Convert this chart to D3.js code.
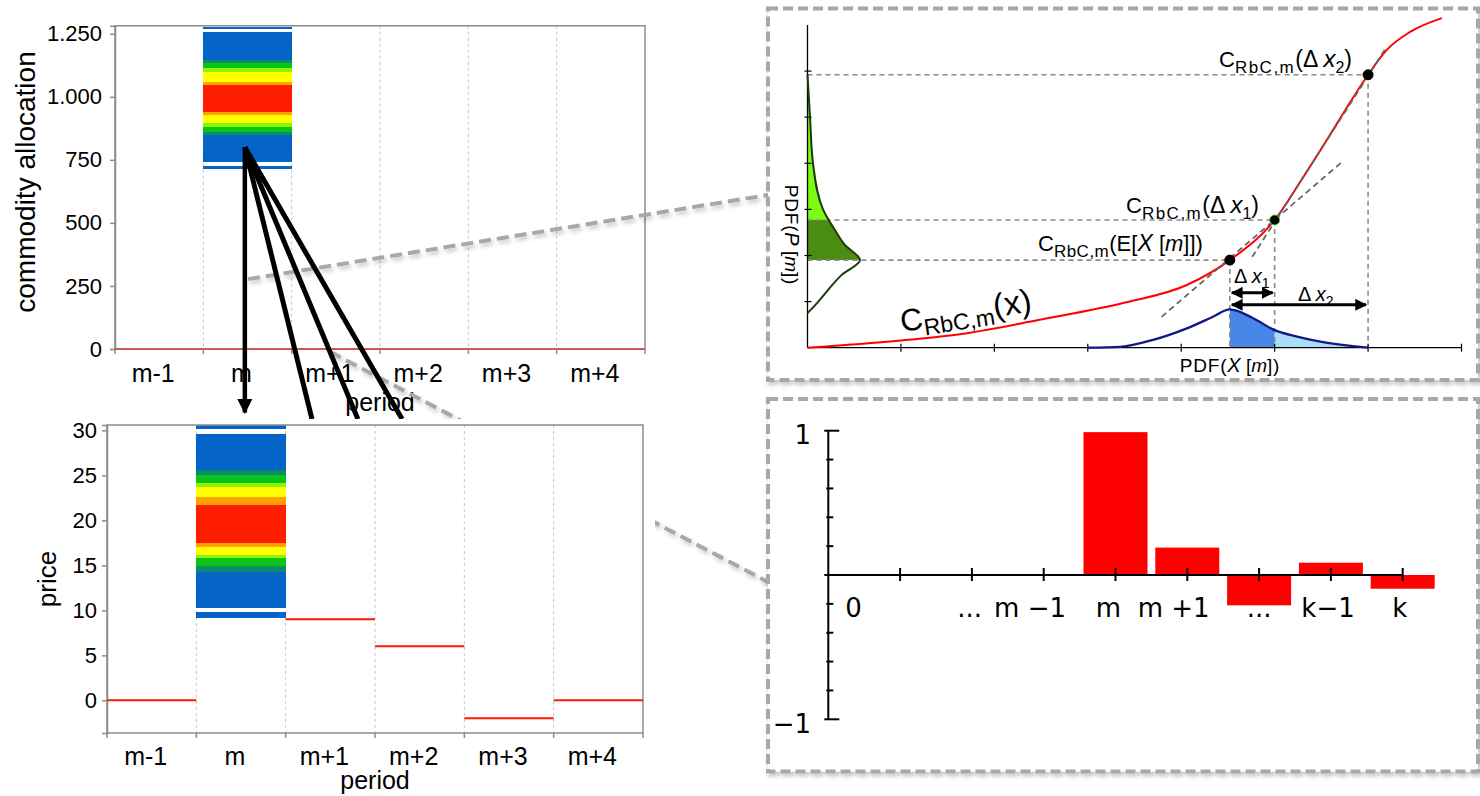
<!DOCTYPE html>
<html>
<head>
<meta charset="utf-8">
<script src="https://cdn.jsdelivr.net/npm/d3@7"></script>
<style>
  body { margin: 0; background: #fff; }
  svg { display: block; }
</style>
</head>
<body>
<div id="figure"></div>
<script>
// ---------------------------------------------------------------
// Data
// ---------------------------------------------------------------
var periods = ["m-1", "m", "m+1", "m+2", "m+3", "m+4"];

// top left: commodity allocation
var allocTicks = [0, 250, 500, 750, 1000, 1250];
var allocTickLabels = ["0", "250", "500", "750", "1.000", "1.250"];
var allocLine = [0, 0, 0, 0, 0, 0];
// heat bands of period m: [low, high, density level]
var allocBands = [
  [713, 727, 0], [740, 849, 0], [849, 862, 0.15], [862, 881, 0.3], [881, 895, 0.45],
  [895, 928, 0.6], [928, 941, 0.8], [941, 1047, 1], [1047, 1060, 0.8], [1060, 1100, 0.6],
  [1100, 1113, 0.45], [1113, 1133, 0.3], [1133, 1146, 0.15], [1146, 1256, 0], [1268, 1278, 0]
];

// bottom left: price
var priceTicks = [0, 5, 10, 15, 20, 25, 30];
var priceLine = [0, null, 9, 6, -2, 0];
var priceBands = [
  [9.2, 9.8, 0], [10.3, 14.3, 0], [14.3, 14.9, 0.15], [14.9, 15.8, 0.3], [15.8, 16.1, 0.45],
  [16.1, 17.0, 0.6], [17.0, 17.5, 0.8], [17.5, 21.7, 1], [21.7, 22.6, 0.8], [22.6, 23.7, 0.6],
  [23.7, 24.1, 0.45], [24.1, 25.0, 0.3], [25.0, 25.6, 0.15], [25.6, 29.6, 0], [30.15, 30.6, 0]
];

// arrows from the allocation heat map (period index, allocation value)
var fanStart = [1.47, 800];
var fanEnds = [2.23, 2.75, 3.25];

// top right: C_RbC,m(x) curve
var curveU = [0, 0.97, 1.69, 2.47, 3.40, 4.06, 4.52, 5.0, 5.30, 5.56, 5.81, 6.0, 6.2, 6.45, 6.79];
var curveV = [0, 0.15, 0.31, 0.60, 0.98, 1.36, 1.90, 2.77, 3.68, 4.51, 5.33, 5.92, 6.46, 6.85, 7.15];
var pointU = [4.52, 5.0, 6.0];
var pointV = [1.90, 2.77, 5.92];
var tangentA = [[3.79, 0.67], [5.71, 4.01]];
var tangentB = [[4.76, 1.97], [6.20, 6.53]];
// PDF of X[m] along x
var pdfXu = [3.0, 3.35, 3.70, 4.06, 4.34, 4.52, 4.77, 5.0, 5.24, 5.49, 6.0];
var pdfXh = [0, 0.02, 0.17, 0.42, 0.67, 0.83, 0.64, 0.38, 0.24, 0.13, 0];
// PDF of P[m] along y
var pdfPv = [5.92, 5.0, 4.0, 3.0, 2.55, 2.23, 1.90, 1.58, 1.25, 0.99, 0.75];
var pdfPd = [0, 0.027, 0.059, 0.166, 0.294, 0.40, 0.562, 0.366, 0.219, 0.112, 0];

// bottom right: bar chart
var barIdx = [4, 5, 6, 7, 8];
var barVals = [0.99, 0.19, -0.21, 0.085, -0.095];
var barYTicks = [-1, -0.8, -0.6, -0.4, -0.2, 0, 0.2, 0.4, 0.6, 0.8, 1];
var barXTicks = [1, 2, 3, 4, 5, 6, 7, 8];
var barTickLabels = ["0", "...", "m \u22121", "m", "m +1", "...", "k\u22121", "k"];
var barTickLabelAt = [0.35, 1.97, 2.81, 3.9, 4.81, 6.0, 6.96, 7.96];

// ---------------------------------------------------------------
// Canvas
// ---------------------------------------------------------------
var svg = d3.select("#figure").append("svg")
  .attr("width", 1480)
  .attr("height", 796);

var defs = svg.append("defs");
var shadow = defs.append("filter").attr("id", "soft")
  .attr("filterUnits", "userSpaceOnUse")
  .attr("x", 0).attr("y", 0).attr("width", 1480).attr("height", 796);
shadow.append("feDropShadow")
  .attr("dx", 2).attr("dy", 3).attr("stdDeviation", 2)
  .attr("flood-color", "#000").attr("flood-opacity", 0.22);

defs.append("marker").attr("id", "head")
  .attr("viewBox", "0 0 10 10").attr("refX", 9).attr("refY", 5)
  .attr("markerWidth", 4).attr("markerHeight", 4).attr("markerUnits", "strokeWidth")
  .attr("orient", "auto-start-reverse")
  .append("path").attr("d", "M0,0 L10,5 L0,10 z").attr("fill", "#000");

defs.append("marker").attr("id", "bighead")
  .attr("viewBox", "0 0 10 10").attr("refX", 9).attr("refY", 5)
  .attr("markerWidth", 3.4).attr("markerHeight", 3.4).attr("markerUnits", "strokeWidth")
  .attr("orient", "auto")
  .append("path").attr("d", "M0,0 L10,5 L0,10 z").attr("fill", "#000");

var heatColor = d3.scaleLinear()
  .domain([0, 0.15, 0.3, 0.45, 0.6, 0.8, 1])
  .range(["#0564c8", "#0a8c6a", "#0bc41a", "#8cf500", "#ffff00", "#ffa200", "#ff1e00"]);

var leftFont = "'Liberation Sans', Arial, sans-serif";

// draws one of the two Excel style panels on the left
function excelPanel(g, x, y, ticks, tickLabels, bands, line, labelY, opts) {
  var idx = d3.scaleLinear().domain([0, periods.length]).range(x.range());
  var left = x.range()[0], right = x.range()[1];
  var top = y.range()[1], bottom = y.range()[0];

  // dashed vertical gridlines between periods
  g.selectAll("line.grid")
    .data(d3.range(1, periods.length))
    .enter().append("line")
    .attr("x1", (d) => idx(d)).attr("x2", (d) => idx(d))
    .attr("y1", top).attr("y2", bottom)
    .attr("stroke", "#c4c4c4").attr("stroke-width", 1)
    .attr("stroke-dasharray", "3,3");

  // heat map of period m
  g.selectAll("rect.heat")
    .data(bands)
    .enter().append("rect")
    .attr("x", x("m")).attr("width", x.bandwidth())
    .attr("y", (d) => y(d[1]))
    .attr("height", (d) => y(d[0]) - y(d[1]))
    .attr("fill", (d) => heatColor(d[2]))
    .attr("shape-rendering", "crispEdges");

  // frame
  g.append("path")
    .attr("d", "M" + left + "," + bottom + "V" + top + "H" + right + "V" + bottom)
    .attr("fill", "none").attr("stroke", "#8c8c8c").attr("stroke-width", 1.5);

  // y axis
  var ya = g.append("g")
    .attr("transform", "translate(" + left + ",0)")
    .call(d3.axisLeft(y).tickValues(ticks)
      .tickFormat((d, i) => tickLabels[i]).tickSize(5).tickPadding(opts.pad));
  ya.select(".domain").attr("stroke", "#8c8c8c").attr("stroke-width", 1.5);
  ya.selectAll(".tick line").attr("stroke", "#8c8c8c").attr("stroke-width", 1.5);
  ya.selectAll(".tick text")
    .style("font-family", leftFont).style("font-size", opts.tickFont + "px").attr("fill", "#000");

  // x axis line and boundary ticks
  g.append("line")
    .attr("x1", left).attr("x2", right).attr("y1", bottom).attr("y2", bottom)
    .attr("stroke", "#8c8c8c").attr("stroke-width", 1.5);
  g.selectAll("line.xt")
    .data(d3.range(0, periods.length + 1))
    .enter().append("line")
    .attr("x1", (d) => idx(d)).attr("x2", (d) => idx(d))
    .attr("y1", bottom).attr("y2", bottom + 5)
    .attr("stroke", "#8c8c8c").attr("stroke-width", 1.5);

  // series line per period
  g.selectAll("line.val")
    .data(periods.map((p, i) => ({ p: p, v: line[i] })).filter((d) => d.v !== null))
    .enter().append("line")
    .attr("x1", (d) => x(d.p)).attr("x2", (d) => x(d.p) + x.bandwidth())
    .attr("y1", (d) => y(d.v)).attr("y2", (d) => y(d.v))
    .attr("stroke", opts.lineColor).attr("stroke-width", 2);

  // category labels
  g.selectAll("text.cat")
    .data(periods)
    .enter().append("text")
    .attr("x", (d) => x(d) + x.bandwidth() / 2 - 6)
    .attr("y", labelY)
    .attr("text-anchor", "middle")
    .style("font-family", leftFont).style("font-size", "25px")
    .text((d) => d);
}

// ---------------------------------------------------------------
// Top left: commodity allocation
// ---------------------------------------------------------------
var topX = d3.scaleBand().domain(periods).range([115, 645]);
var topY = d3.scaleLinear().domain([0, 1282]).range([349, 25.7]);
var topIdx = d3.scaleLinear().domain([0, periods.length]).range([115, 645]);
var gTop = svg.append("g");
excelPanel(gTop, topX, topY, allocTicks, allocTickLabels, allocBands, allocLine, 382,
  { pad: 8, tickFont: 22, lineColor: "#cd5a52" });

gTop.append("text")
  .attr("transform", "translate(35,182) rotate(-90)")
  .attr("text-anchor", "middle")
  .style("font-family", leftFont).style("font-size", "28px")
  .text("commodity allocation");
gTop.append("text")
  .attr("x", 380).attr("y", 411)
  .attr("text-anchor", "middle")
  .style("font-family", leftFont).style("font-size", "25px")
  .text("period");

// ---------------------------------------------------------------
// Grey zoom connectors
// ---------------------------------------------------------------
var connectors = [
  [[topIdx(1.506), topY(277)], [768, 195]],
  [[topIdx(2.434), topY(-11)], [768, 582]]
];
svg.append("g").selectAll("line")
  .data(connectors)
  .enter().append("line")
  .attr("x1", (d) => d[0][0]).attr("y1", (d) => d[0][1])
  .attr("x2", (d) => d[1][0]).attr("y2", (d) => d[1][1])
  .attr("stroke", "#a8a8a8").attr("stroke-width", 4)
  .attr("stroke-dasharray", "12,6")
  .attr("filter", "url(#soft)");

// ---------------------------------------------------------------
// Black arrows fanning out of the heat map
// ---------------------------------------------------------------
var gFan = svg.append("g");
gFan.selectAll("line.fan")
  .data(fanEnds)
  .enter().append("line")
  .attr("x1", topIdx(fanStart[0])).attr("y1", topY(fanStart[1]))
  .attr("x2", (d) => topIdx(d)).attr("y2", topY(-278))
  .attr("stroke", "#000").attr("stroke-width", 5);
gFan.append("line")
  .attr("x1", topIdx(fanStart[0])).attr("y1", topY(fanStart[1]))
  .attr("x2", topIdx(fanStart[0])).attr("y2", topY(-252))
  .attr("stroke", "#000").attr("stroke-width", 4.5)
  .attr("marker-end", "url(#bighead)");

// ---------------------------------------------------------------
// Bottom left: price
// ---------------------------------------------------------------
var gBot = svg.append("g");
gBot.append("rect").attr("x", 0).attr("y", 419).attr("width", 655).attr("height", 377).attr("fill", "#fff");
var botX = d3.scaleBand().domain(periods).range([107, 643]);
var botY = d3.scaleLinear().domain([-3.63, 30.6]).range([733, 425]);
excelPanel(gBot, botX, botY, priceTicks, priceTicks.map(String), priceBands, priceLine, 765,
  { pad: 5, tickFont: 22, lineColor: "#ff1a00" });

gBot.append("text")
  .attr("transform", "translate(56,579) rotate(-90)")
  .attr("text-anchor", "middle")
  .style("font-family", leftFont).style("font-size", "26px")
  .text("price");
gBot.append("text")
  .attr("x", 375).attr("y", 789)
  .attr("text-anchor", "middle")
  .style("font-family", leftFont).style("font-size", "25px")
  .text("period");

// ---------------------------------------------------------------
// Dashed frames of the two right panels
// ---------------------------------------------------------------
var frames = [[768, 8.5, 710, 371.5], [768, 399, 710, 372.5]];
svg.append("g").selectAll("rect")
  .data(frames)
  .enter().append("rect")
  .attr("x", (d) => d[0]).attr("y", (d) => d[1])
  .attr("width", (d) => d[2]).attr("height", (d) => d[3])
  .attr("fill", "#fff")
  .attr("stroke", "#a8a8a8").attr("stroke-width", 4)
  .attr("stroke-dasharray", "10,5")
  .attr("filter", "url(#soft)");

// helper for labels with subscripts and italics
function richText(g, x, y, parts, anchor) {
  var t = g.append("text").attr("x", x).attr("y", y)
    .attr("text-anchor", anchor || "start")
    .style("font-family", leftFont);
  var shift = 0;
  parts.forEach(function (p) {
    var s = p.sub || 0;
    t.append("tspan")
      .attr("dy", s - shift)
      .style("font-size", p.size + "px")
      .style("font-style", p.it ? "italic" : "normal")
      .style("letter-spacing", p.ls ? p.ls + "px" : "0px")
      .text(p.t);
    shift = s;
  });
  return t;
}

// ---------------------------------------------------------------
// Top right: C_RbC,m(x) with the two PDFs
// ---------------------------------------------------------------
var cx = d3.scaleLinear().domain([0, 7]).range([807.5, 1461.5]);
var cy = d3.scaleLinear().domain([0, 7]).range([347.7, 25]);
var gC = svg.append("g");

defs.append("clipPath").attr("id", "clipXdark").append("rect")
  .attr("x", cx(pointU[0])).attr("y", 0).attr("width", cx(pointU[1]) - cx(pointU[0])).attr("height", 796);
defs.append("clipPath").attr("id", "clipXlight").append("rect")
  .attr("x", cx(pointU[1])).attr("y", 0).attr("width", cx(pointU[2]) - cx(pointU[1])).attr("height", 796);
defs.append("clipPath").attr("id", "clipPlight").append("rect")
  .attr("x", 0).attr("y", cy(pointV[2])).attr("width", 1480).attr("height", cy(pointV[1]) - cy(pointV[2]));
defs.append("clipPath").attr("id", "clipPdark").append("rect")
  .attr("x", 0).attr("y", cy(pointV[1])).attr("width", 1480).attr("height", cy(pointV[0]) - cy(pointV[1]));

var pdfX = pdfXu.map((u, i) => ({ u: u, h: pdfXh[i] }));
var pdfP = pdfPv.map((v, i) => ({ v: v, d: pdfPd[i] }));

var areaX = d3.area().x((d) => cx(d.u)).y0(cy(0)).y1((d) => cy(d.h)).curve(d3.curveMonotoneX);
var lineX = d3.line().x((d) => cx(d.u)).y((d) => cy(d.h)).curve(d3.curveMonotoneX);
var areaP = d3.area().y((d) => cy(d.v)).x0(cx(0)).x1((d) => cx(d.d)).curve(d3.curveMonotoneY);
var lineP = d3.line().y((d) => cy(d.v)).x((d) => cx(d.d)).curve(d3.curveMonotoneY);

gC.append("path").datum(pdfX).attr("d", areaX).attr("fill", "#4785e6").attr("clip-path", "url(#clipXdark)");
gC.append("path").datum(pdfX).attr("d", areaX).attr("fill", "#a9dcf7").attr("clip-path", "url(#clipXlight)");
gC.append("path").datum(pdfP).attr("d", areaP).attr("fill", "#7cfc14").attr("clip-path", "url(#clipPlight)");
gC.append("path").datum(pdfP).attr("d", areaP).attr("fill", "#4b8c12").attr("clip-path", "url(#clipPdark)");

// dashed guides from the axes to the points
var guideColor = "#8a8a8a";
gC.selectAll("line.hguide")
  .data(pointU.map((u, i) => [u, pointV[i]]))
  .enter().append("line")
  .attr("x1", cx(0)).attr("x2", (d) => cx(d[0]))
  .attr("y1", (d) => cy(d[1])).attr("y2", (d) => cy(d[1]))
  .attr("stroke", guideColor).attr("stroke-width", 1.6).attr("stroke-dasharray", "5,4");
gC.selectAll("line.vguide")
  .data(pointU.map((u, i) => [u, pointV[i]]))
  .enter().append("line")
  .attr("x1", (d) => cx(d[0])).attr("x2", (d) => cx(d[0]))
  .attr("y1", (d) => cy(d[1])).attr("y2", cy(0))
  .attr("stroke", guideColor).attr("stroke-width", 1.6).attr("stroke-dasharray", "5,4");

// axes
gC.append("line").attr("x1", cx(0)).attr("x2", cx(7)).attr("y1", cy(0)).attr("y2", cy(0))
  .attr("stroke", "#000").attr("stroke-width", 1.3);
gC.append("line").attr("x1", cx(0)).attr("x2", cx(0)).attr("y1", cy(0)).attr("y2", cy(7))
  .attr("stroke", "#000").attr("stroke-width", 1.3);
gC.selectAll("line.cxt")
  .data(d3.range(1, 8))
  .enter().append("line")
  .attr("x1", (d) => cx(d)).attr("x2", (d) => cx(d))
  .attr("y1", cy(0) - 4).attr("y2", cy(0) + 4)
  .attr("stroke", "#000").attr("stroke-width", 1.2);
gC.selectAll("line.cyt")
  .data(d3.range(1, 7))
  .enter().append("line")
  .attr("x1", cx(0) - 3).attr("x2", cx(0) + 4)
  .attr("y1", (d) => cy(d)).attr("y2", (d) => cy(d))
  .attr("stroke", "#000").attr("stroke-width", 1.2);

// PDF outlines
gC.append("path").datum(pdfX).attr("d", lineX).attr("fill", "none").attr("stroke", "#15168a").attr("stroke-width", 2.3);
gC.append("path").datum(pdfP).attr("d", lineP).attr("fill", "none").attr("stroke", "#1c3a0c").attr("stroke-width", 2);

// red curve
var crbc = curveU.map((u, i) => ({ u: u, v: curveV[i] }));
gC.append("path").datum(crbc)
  .attr("d", d3.line().x((d) => cx(d.u)).y((d) => cy(d.v)).curve(d3.curveMonotoneX))
  .attr("fill", "none").attr("stroke", "#ff0000").attr("stroke-width", 2);

// tangents
gC.selectAll("line.tan")
  .data([tangentA, tangentB])
  .enter().append("line")
  .attr("x1", (d) => cx(d[0][0])).attr("y1", (d) => cy(d[0][1]))
  .attr("x2", (d) => cx(d[1][0])).attr("y2", (d) => cy(d[1][1]))
  .attr("stroke", "#666").attr("stroke-width", 1.8).attr("stroke-dasharray", "6,4");

// points
gC.selectAll("circle")
  .data(pointU.map((u, i) => [u, pointV[i]]))
  .enter().append("circle")
  .attr("cx", (d) => cx(d[0])).attr("cy", (d) => cy(d[1])).attr("r", 5)
  .attr("fill", "#000")
  .attr("stroke", (d, i) => i == 1 ? "#33cc33" : "#000").attr("stroke-width", 1);

// delta arrows
var deltaRows = [1.19, 0.93];
gC.selectAll("line.delta")
  .data([1, 2])
  .enter().append("line")
  .attr("x1", cx(pointU[0]) + 2).attr("x2", (d) => cx(pointU[d]) - 2)
  .attr("y1", (d, i) => cy(deltaRows[i])).attr("y2", (d, i) => cy(deltaRows[i]))
  .attr("stroke", "#000").attr("stroke-width", 3)
  .attr("marker-start", "url(#head)").attr("marker-end", "url(#head)");

// labels
richText(gC, 1219, 67, [
  { t: "C", size: 22 }, { t: "RbC,m", size: 17, sub: 6, ls: 1.5 },
  { t: "(\u0394 ", size: 23 }, { t: "x", size: 24, it: true }, { t: "2", size: 16, sub: 6 }, { t: ")", size: 23 }
]);
richText(gC, 1126, 213, [
  { t: "C", size: 22 }, { t: "RbC,m", size: 17, sub: 6, ls: 1.5 },
  { t: "(\u0394 ", size: 23 }, { t: "x", size: 24, it: true }, { t: "1", size: 16, sub: 6 }, { t: ")", size: 23 }
]);
richText(gC, 1038, 251, [
  { t: "C", size: 22 }, { t: "RbC,m", size: 17, sub: 6, ls: 0.5 },
  { t: "(E[", size: 22 }, { t: "X", size: 23, it: true }, { t: " [", size: 22 },
  { t: "m", size: 22, it: true }, { t: "]])", size: 22 }
]);
richText(gC, 0, 0, [
  { t: "C", size: 31 }, { t: "RbC,m", size: 23, sub: 7 }, { t: "(x)", size: 33 }
]).attr("transform", "translate(902,332) rotate(-9)");
richText(gC, 1234, 283, [
  { t: "\u0394 ", size: 20 }, { t: "x", size: 20, it: true }, { t: "1", size: 14, sub: 5 }
]);
richText(gC, 1298, 301, [
  { t: "\u0394 ", size: 20 }, { t: "x", size: 20, it: true }, { t: "2", size: 14, sub: 5 }
]);
richText(gC, 1230, 372, [
  { t: "PDF(", size: 19, ls: 0.8 }, { t: "X", size: 20, it: true }, { t: " [", size: 19 },
  { t: "m", size: 19, it: true }, { t: "])", size: 19, ls: 0.8 }
], "middle");
richText(gC, 0, 0, [
  { t: "PDF(", size: 19, ls: 0.8 }, { t: "P", size: 20, it: true }, { t: " [", size: 19 },
  { t: "m", size: 19, it: true }, { t: "])", size: 19, ls: 0.8 }
], "middle").attr("transform", "translate(785,235) rotate(90)");

// ---------------------------------------------------------------
// Bottom right: bar chart
// ---------------------------------------------------------------
var bx = d3.scaleLinear().domain([0, 8]).range([828.3, 1402.7]);
var by = d3.scaleLinear().domain([-1, 1]).range([719.3, 430.7]);
var gB = svg.append("g").style("font-family", "'DejaVu Sans', sans-serif");

gB.selectAll("rect.bar")
  .data(barIdx.map((d, i) => ({ x: d, v: barVals[i] })))
  .enter().append("rect")
  .attr("class", "bar")
  .attr("x", (d) => bx(d.x) - 32).attr("width", 64)
  .attr("y", (d) => by(Math.max(0, d.v)))
  .attr("height", (d) => Math.abs(by(d.v) - by(0)))
  .attr("fill", "#ff0000");

gB.append("line").attr("x1", bx(0) - 4).attr("x2", bx(8)).attr("y1", by(0)).attr("y2", by(0))
  .attr("stroke", "#000").attr("stroke-width", 2);
gB.append("line").attr("x1", bx(0)).attr("x2", bx(0)).attr("y1", by(1)).attr("y2", by(-1))
  .attr("stroke", "#000").attr("stroke-width", 2);
gB.selectAll("line.yt")
  .data(barYTicks)
  .enter().append("line")
  .attr("x1", (d) => Math.abs(d) == 1 ? bx(0) - 4 : bx(0) - 2)
  .attr("x2", (d) => Math.abs(d) == 1 ? bx(0) + 11 : bx(0) + 5)
  .attr("y1", (d) => by(d)).attr("y2", (d) => by(d))
  .attr("stroke", "#000").attr("stroke-width", 2);
gB.selectAll("line.xt")
  .data(barXTicks)
  .enter().append("line")
  .attr("x1", (d) => bx(d)).attr("x2", (d) => bx(d))
  .attr("y1", by(0) - 7).attr("y2", by(0) + 6)
  .attr("stroke", "#000").attr("stroke-width", 2);

gB.selectAll("text.xl")
  .data(barTickLabels)
  .enter().append("text")
  .attr("x", (d, i) => bx(barTickLabelAt[i]))
  .attr("y", 617)
  .attr("text-anchor", "middle")
  .style("font-size", "26px")
  .text((d) => d);
gB.append("text").attr("x", 811).attr("y", 444).attr("text-anchor", "end")
  .style("font-size", "26px").text("1");
gB.append("text").attr("x", 811).attr("y", 733).attr("text-anchor", "end")
  .style("font-size", "26px").text("\u22121");
</script>
</body>
</html>
